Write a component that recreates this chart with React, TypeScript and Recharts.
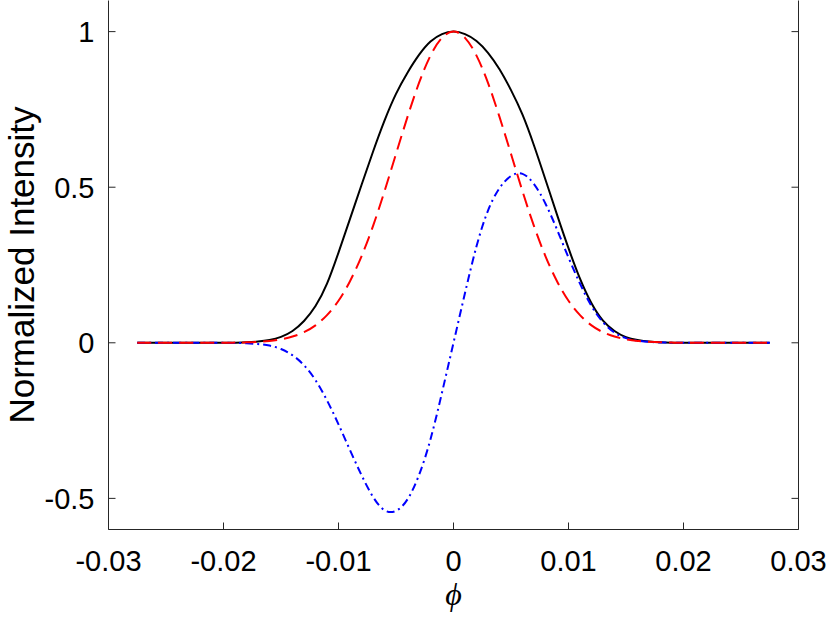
import React from 'react';
import { LineChart, Line, XAxis, YAxis } from 'recharts';

const phi = [
  -0.0275, -0.025, -0.022, -0.02, -0.019, -0.018, -0.017, -0.016, -0.015, -0.014,
  -0.013, -0.012, -0.011, -0.01, -0.009, -0.008, -0.007, -0.006, -0.005, -0.004,
  -0.003, -0.002, -0.001, 0, 0.001, 0.002, 0.003, 0.004, 0.005, 0.006,
  0.007, 0.008, 0.009, 0.01, 0.011, 0.012, 0.013, 0.014, 0.015, 0.016,
  0.017, 0.018, 0.019, 0.02, 0.022, 0.025, 0.0275,
];

// black solid curve
const totalIntensity = [
  0, 0, 0, 0, 0.0005, 0.0015, 0.004, 0.009, 0.019, 0.038,
  0.07, 0.118, 0.19, 0.29, 0.398, 0.507, 0.614, 0.714, 0.8, 0.868,
  0.925, 0.968, 0.992, 1, 0.992, 0.97, 0.932, 0.879, 0.812, 0.733,
  0.634, 0.524, 0.412, 0.304, 0.206, 0.127, 0.071, 0.038, 0.018, 0.009,
  0.004, 0.0015, 0.0005, 0, 0, 0, 0,
];

// red dashed curve
const evenPart = [
  0, 0, 0, 0, 0.0007, 0.0015, 0.003, 0.006, 0.011, 0.02,
  0.034, 0.056, 0.089, 0.135, 0.198, 0.278, 0.375, 0.487, 0.607, 0.726,
  0.835, 0.923, 0.98, 1, 0.98, 0.923, 0.835, 0.726, 0.607, 0.487,
  0.375, 0.278, 0.198, 0.135, 0.089, 0.056, 0.034, 0.02, 0.011, 0.006,
  0.003, 0.0015, 0.0007, 0, 0, 0, 0,
];

// blue dash-dot curve
const oddPart = [
  0, 0, 0, 0, -0.0005, -0.0015, -0.004, -0.009, -0.02, -0.04,
  -0.072, -0.12, -0.185, -0.262, -0.345, -0.425, -0.495, -0.538, -0.54, -0.503,
  -0.425, -0.31, -0.16, 0, 0.16, 0.31, 0.425, 0.497, 0.536, 0.543,
  0.51, 0.447, 0.364, 0.274, 0.19, 0.118, 0.066, 0.033, 0.015, 0.007,
  0.003, 0.001, 0.0003, 0, 0, 0, 0,
];

const xTicks = [-0.03, -0.02, -0.01, 0, 0.01, 0.02, 0.03];
const yTicks = [-0.5, 0, 0.5, 1];

const data = phi.map((p, i) => ({
  phi: p,
  total: totalIntensity[i],
  even: evenPart[i],
  odd: oddPart[i],
}));

const FONT = '"Liberation Sans", Arial, Helvetica, sans-serif';
const AXIS = '#262626';
const TICK_LEN = 7;
const TICK_FONT = 29;
const X_MARGIN = 21;
const Y_MARGIN = 14;

const BottomTick = (props: any) => {
  const { x, y, payload } = props;
  const edge = y - X_MARGIN;
  return (
    <g>
      <line x1={x} x2={x} y1={edge} y2={edge - TICK_LEN} stroke={AXIS} strokeWidth={1} />
      <text x={x} y={y} dy="0.71em" textAnchor="middle" fontFamily={FONT} fontSize={TICK_FONT} fill="#000">
        {String(payload.value)}
      </text>
    </g>
  );
};

const LeftTick = (props: any) => {
  const { x, y, payload } = props;
  const edge = x + Y_MARGIN;
  return (
    <g>
      <line x1={edge} x2={edge + TICK_LEN} y1={y} y2={y} stroke={AXIS} strokeWidth={1} />
      <text x={x} y={y} dy="0.355em" textAnchor="end" fontFamily={FONT} fontSize={TICK_FONT} fill="#000">
        {String(payload.value)}
      </text>
    </g>
  );
};

const TopTick = (props: any) => {
  const { x, y } = props;
  return <line x1={x} x2={x} y1={y} y2={y + TICK_LEN} stroke={AXIS} strokeWidth={1} />;
};

const RightTick = (props: any) => {
  const { x, y } = props;
  return <line x1={x} x2={x - TICK_LEN} y1={y} y2={y} stroke={AXIS} strokeWidth={1} />;
};

const XLabel = (props: any) => {
  const vb = props.viewBox || {};
  return (
    <text
      x={vb.x + vb.width / 2}
      y={vb.y + vb.height - 13}
      textAnchor="middle"
      fontFamily='"Liberation Serif", "DejaVu Serif", serif'
      fontStyle="italic"
      fontSize={32}
      fill="#000"
    >
      ϕ
    </text>
  );
};

const YLabel = (props: any) => {
  const vb = props.viewBox || {};
  const cx = vb.x + 34;
  const cy = vb.y + vb.height / 2;
  return (
    <text
      x={cx}
      y={cy}
      transform={`rotate(-90, ${cx}, ${cy})`}
      textAnchor="middle"
      fontFamily={FONT}
      fontSize={35}
      fill="#000"
    >
      Normalized Intensity
    </text>
  );
};

export default function App() {
  return (
    <div style={{ position: 'absolute', left: 0, top: 0, width: 830, height: 618, background: '#fff' }}>
      <LineChart width={830} height={618} data={data} margin={{ top: 0.5, right: 0, bottom: 0, left: 0 }}>
        <XAxis
          xAxisId="b"
          dataKey="phi"
          type="number"
          orientation="bottom"
          domain={[-0.03, 0.03]}
          ticks={xTicks}
          interval={0}
          allowDataOverflow
          height={88.5}
          stroke={AXIS}
          tickSize={0}
          tickMargin={X_MARGIN}
          tickLine={false}
          tick={<BottomTick />}
          label={<XLabel />}
        />
        <XAxis
          xAxisId="t"
          dataKey="phi"
          type="number"
          orientation="top"
          domain={[-0.03, 0.03]}
          ticks={xTicks}
          interval={0}
          allowDataOverflow
          height={0}
          stroke={AXIS}
          tickSize={0}
          tickMargin={0}
          tickLine={false}
          tick={<TopTick />}
        />
        <YAxis
          yAxisId="l"
          type="number"
          domain={[-0.6, 1.1]}
          ticks={yTicks}
          interval={0}
          allowDataOverflow
          width={108.5}
          stroke={AXIS}
          tickSize={0}
          tickMargin={Y_MARGIN}
          tickLine={false}
          tick={<LeftTick />}
          label={<YLabel />}
        />
        <YAxis
          yAxisId="r"
          orientation="right"
          type="number"
          domain={[-0.6, 1.1]}
          ticks={yTicks}
          interval={0}
          allowDataOverflow
          width={31.5}
          stroke={AXIS}
          tickSize={0}
          tickMargin={0}
          tickLine={false}
          tick={<RightTick />}
        />
        <Line
          xAxisId="b"
          yAxisId="l"
          type="natural"
          dataKey="total"
          stroke="#000000"
          strokeWidth={2}
          dot={false}
          activeDot={false}
          isAnimationActive={false}
        />
        <Line
          xAxisId="b"
          yAxisId="l"
          type="natural"
          dataKey="odd"
          stroke="#0000ff"
          strokeWidth={2}
          strokeDasharray="8 4 2 4"
          dot={false}
          activeDot={false}
          isAnimationActive={false}
        />
        <Line
          xAxisId="b"
          yAxisId="l"
          type="natural"
          dataKey="even"
          stroke="#ff0000"
          strokeWidth={2}
          strokeDasharray="14 7"
          dot={false}
          activeDot={false}
          isAnimationActive={false}
        />
      </LineChart>
    </div>
  );
}
